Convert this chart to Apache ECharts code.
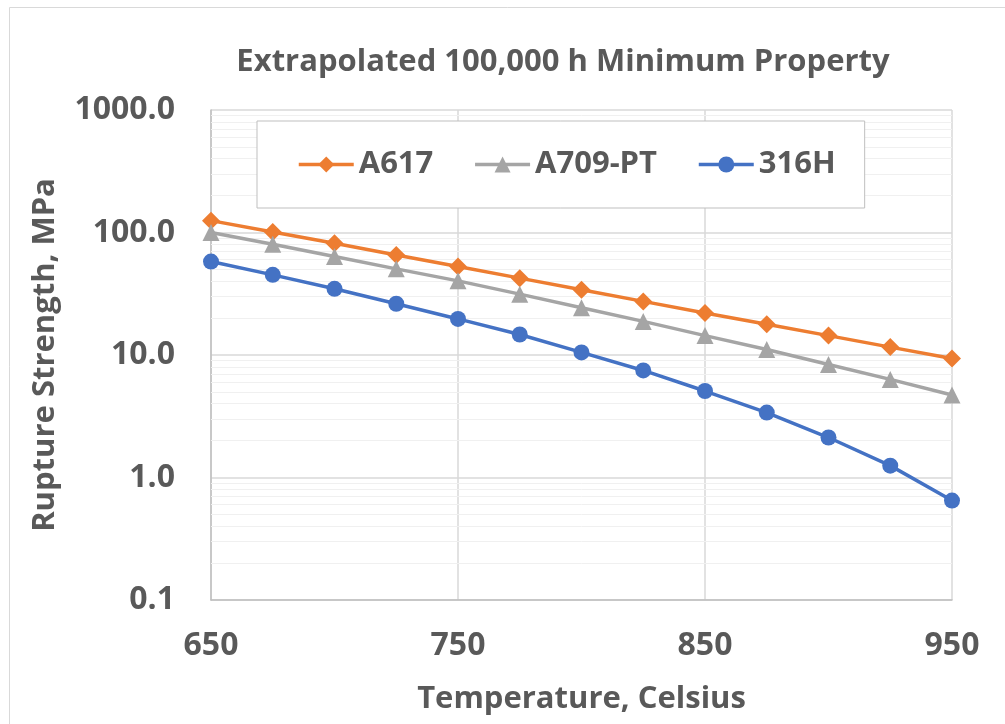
<!DOCTYPE html>
<html>
<head>
<meta charset="utf-8">
<script src="https://cdn.jsdelivr.net/npm/echarts@6/dist/echarts.min.js"></script>
<style>
html,body{margin:0;padding:0;background:#fff;}
#chart{width:1005px;height:724px;}
</style>
</head>
<body>
<div id="chart"></div>
<script>
var temperatures = [650, 675, 700, 725, 750, 775, 800, 825, 850, 875, 900, 925, 950];
var a617 = [125, 101, 81.7, 65.6, 52.7, 42.4, 34.1, 27.4, 22.0, 17.8, 14.4, 11.6, 9.37];
var a709pt = [100, 80.2, 63.6, 50.5, 40.3, 31.4, 24.3, 18.8, 14.4, 11.1, 8.37, 6.32, 4.71];
var h316 = [57.9, 45.1, 34.7, 26.2, 19.7, 14.7, 10.5, 7.48, 5.08, 3.39, 2.12, 1.25, 0.648];
var seriesNames = ['A617', 'A709-PT', '316H'];
var seriesColors = ['#ED7D31', '#A5A5A5', '#4472C4'];
var seriesSymbols = ['diamond', 'triangle', 'circle'];
var xTicks = [650, 750, 850, 950];
var yDecades = [0.1, 1, 10, 100, 1000];

var FONT = 'Open Sans';
var TXT = '#595959';

function pairs(vals) {
  return temperatures.map(function (t, i) { return [t, vals[i]]; });
}
// minor log grid lines (2..9 within each decade)
var minorLines = [];
for (var d = 0; d < yDecades.length - 1; d++) {
  for (var m = 2; m <= 9; m++) {
    minorLines.push({ yAxis: +(yDecades[d] * m).toPrecision(3) });
  }
}

var symbolSizes = { diamond: 18, triangle: 17, circle: 16 };
var allVals = [a617, a709pt, h316];
var series = [{
  name: '_minor',
  type: 'line',
  data: [],
  z: 1,
  silent: true,
  markLine: {
    silent: true,
    z: 1,
    symbol: 'none',
    label: { show: false },
    emphasis: { disabled: true },
    lineStyle: { color: '#f0f0f0', width: 1, type: 'solid' },
    data: minorLines,
    animation: false
  }
}];
allVals.forEach(function (vals, i) {
  series.push({
    name: seriesNames[i],
    type: 'line',
    data: pairs(vals),
    symbol: seriesSymbols[i],
    symbolSize: symbolSizes[seriesSymbols[i]],
    showAllSymbol: true,
    lineStyle: { color: seriesColors[i], width: 3.5 },
    itemStyle: { color: seriesColors[i] },
    z: 3 + i
  });
});

var chart = echarts.init(document.getElementById('chart'), null, { renderer: 'canvas' });
chart.setOption({
  animation: false,
  backgroundColor: '#fff',
  graphic: [{
    type: 'rect',
    shape: { x: 9.5, y: 7.5, width: 1200, height: 1200 },
    style: { fill: 'none', stroke: '#d9d9d9', lineWidth: 1 },
    silent: true,
    z: -1
  }],
  title: {
    text: 'Extrapolated 100,000 h Minimum Property',
    left: 558,
    textAlign: 'center',
    top: 42,
    textStyle: { fontFamily: FONT, fontWeight: 'bold', fontSize: 31, color: TXT }
  },
  legend: {
    data: seriesNames,
    left: 257,
    top: 121,
    z: 10,
    padding: [28, 29, 28, 40],
    itemGap: 40,
    itemWidth: 55,
    itemHeight: 20,
    lineStyle: { width: 3.5 },
    borderColor: '#bfbfbf',
    borderWidth: 1,
    backgroundColor: '#fff',
    textStyle: { fontFamily: FONT, fontWeight: 'bold', fontSize: 31, color: TXT }
  },
  grid: { left: 211, right: 53, top: 110, bottom: 124 },
  xAxis: {
    type: 'value',
    min: 650,
    max: 950,
    interval: 100,
    axisLine: { show: true, lineStyle: { color: '#bfbfbf', width: 1.5 } },
    axisTick: { show: false },
    axisLabel: {
      fontFamily: FONT, fontWeight: 'bold', fontSize: 32, color: TXT, margin: 30,
      customValues: xTicks
    },
    splitLine: { show: true, lineStyle: { color: '#d9d9d9', width: 1.5 } },
    name: 'Temperature, Celsius',
    nameLocation: 'middle',
    nameGap: 84,
    nameTextStyle: { fontFamily: FONT, fontWeight: 'bold', fontSize: 31, color: TXT }
  },
  yAxis: {
    type: 'log',
    logBase: 10,
    min: 0.1,
    max: 1000,
    axisLine: { show: true, lineStyle: { color: '#bfbfbf', width: 1.5 } },
    axisTick: { show: false },
    axisLabel: {
      fontFamily: FONT, fontWeight: 'bold', fontSize: 32, color: TXT, margin: 36,
      formatter: function (v) { return Number(v).toFixed(1); }
    },
    splitLine: { show: true, lineStyle: { color: '#d9d9d9', width: 1.5 } },
    name: 'Rupture Strength, MPa',
    nameLocation: 'middle',
    nameGap: 150,
    nameTextStyle: { fontFamily: FONT, fontWeight: 'bold', fontSize: 31, color: TXT }
  },
  series: series
});
</script>
</body>
</html>
